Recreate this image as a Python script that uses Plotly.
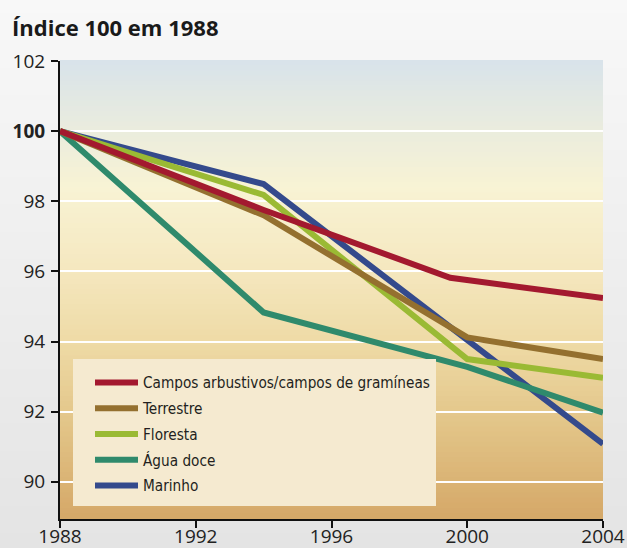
import plotly.graph_objects as go

# dados (índice 100 em 1988)
anos_campos = [1988, 1994, 1999.5, 2004]
campos = [100, 97.75, 95.82, 95.24]
anos_terr = [1988, 1994, 2000, 2004]
terrestre = [100, 97.6, 94.12, 93.5]
anos_flor = [1988, 1994, 2000, 2004]
floresta = [100, 98.18, 93.5, 92.97]
anos_agua = [1988, 1994, 2000, 2004]
agua_doce = [100, 94.83, 93.28, 91.97]
anos_mar = [1988, 1994, 2004]
marinho = [100, 98.49, 91.08]

nomes = ['Campos arbustivos/campos de gramíneas', 'Terrestre', 'Floresta',
         'Água doce', 'Marinho']
cores = ['#a3192f', '#94702f', '#9aba34', '#2f8a6c', '#344a8c']
xs = [anos_campos, anos_terr, anos_flor, anos_agua, anos_mar]
ys = [campos, terrestre, floresta, agua_doce, marinho]

x_ticks = [1988, 1992, 1996, 2000, 2004]
y_ticks = [90, 92, 94, 96, 98, 100, 102]
y_labels = ['90', '92', '94', '96', '98', '<b>100</b>', '102']

fig = go.Figure()
# ordem de desenho: marinho por baixo, campos por cima (legenda mantém a ordem)
for i in [4, 3, 2, 1, 0]:
  fig.add_trace(go.Scatter(x=xs[i], y=ys[i], mode='lines', name=nomes[i],
                           legendrank=i + 1, legendgroup='g%d' % i,
                           line=dict(color=cores[i], width=6)))

def mix(c1, c2, t):
  return tuple(round(a + (b - a) * t) for a, b in zip(c1, c2))

def gradient(stops, n, x0, x1, y0, y1, xref, yref):
  shapes = []
  for k in range(n):
    f = (k + 0.5) / n
    for j in range(len(stops) - 1):
      if stops[j][0] <= f <= stops[j + 1][0]:
        t = (f - stops[j][0]) / (stops[j + 1][0] - stops[j][0])
        c = mix(stops[j][1], stops[j + 1][1], t)
        break
    top = y1 - (y1 - y0) * k / n
    bot = y1 - (y1 - y0) * (k + 1) / n
    shapes.append(dict(type='rect', xref=xref, yref=yref, x0=x0, x1=x1,
                       y0=bot, y1=top + 0.002, layer='below', line_width=0,
                       fillcolor='rgb(%d,%d,%d)' % c))
  return shapes

# fundo do gráfico (degradê azul -> bege -> ocre)
plot_stops = [(0.0, (216, 227, 234)), (0.15, (234, 236, 222)),
              (0.28, (248, 243, 212)), (0.45, (245, 232, 192)),
              (0.62, (238, 218, 165)), (0.8, (226, 196, 135)),
              (1.0, (213, 168, 104))]
page_stops = [(0.0, (248, 248, 248)), (1.0, (228, 228, 228))]

W, H = 627, 548
L, R, T, B = 60, 24, 61, 29
pw, ph = W - L - R, H - T - B
shapes = gradient(page_stops, 40, -L / pw, 1 + R / pw, -B / ph, 1 + T / ph,
                  'paper', 'paper')
shapes += gradient(plot_stops, 90, 0, 1, 0, 1, 'x domain', 'y domain')
# caixa da legenda
shapes.append(dict(type='rect', xref='x domain', yref='y domain',
                   x0=(73 - L) / pw, x1=(436 - L) / pw,
                   y0=(H - B - 506) / ph, y1=(H - B - 359) / ph,
                   layer='above', line_width=0, fillcolor='#f5ead0'))

axis_font = dict(size=19, color='#222222')
fig.update_layout(
  width=W, height=H,
  margin=dict(l=L, r=R, t=T, b=B, autoexpand=False),
  paper_bgcolor='#efefef', plot_bgcolor='rgba(0,0,0,0)',
  shapes=shapes,
  title=dict(text='<b>Índice 100 em 1988</b>', xref='container', yref='container',
             x=12 / W, xanchor='left', y=1 - 28 / H, yanchor='middle',
             font=dict(family='Open Sans', size=22, color='#1a1a1a')),
  font=dict(family='Open Sans', color='#222222'),
  xaxis=dict(range=[1988, 2004], tickvals=x_ticks, showgrid=False, zeroline=False,
             automargin=False, ticklabelstandoff=-8,
             showline=True, linecolor='#111111', linewidth=2, ticks='outside',
             ticklen=7, tickwidth=1.5, tickcolor='#111111', tickfont=axis_font),
  yaxis=dict(range=[88.94, 102], tickvals=y_ticks, ticktext=y_labels,
             automargin=False, ticklabelstandoff=2,
             showgrid=True, gridcolor='white', gridwidth=2, zeroline=False,
             showline=True, linecolor='#111111', linewidth=2, ticks='outside',
             ticklen=7, tickwidth=1.5, tickcolor='#111111', tickfont=axis_font),
  legend=dict(x=(90 - L) / pw, xanchor='left', y=(H - B - 366) / ph, yanchor='top',
              bgcolor='rgba(0,0,0,0)', borderwidth=0, itemwidth=43,
              tracegroupgap=3,
              font=dict(family='DejaVu Sans Condensed, sans-serif',
                        size=15.2, color='#231f20')),
)

fig.write_html('out.html', config={'displayModeBar': False},
               post_script="document.body.style.margin='0';"
                           "document.body.style.overflow='hidden';")
